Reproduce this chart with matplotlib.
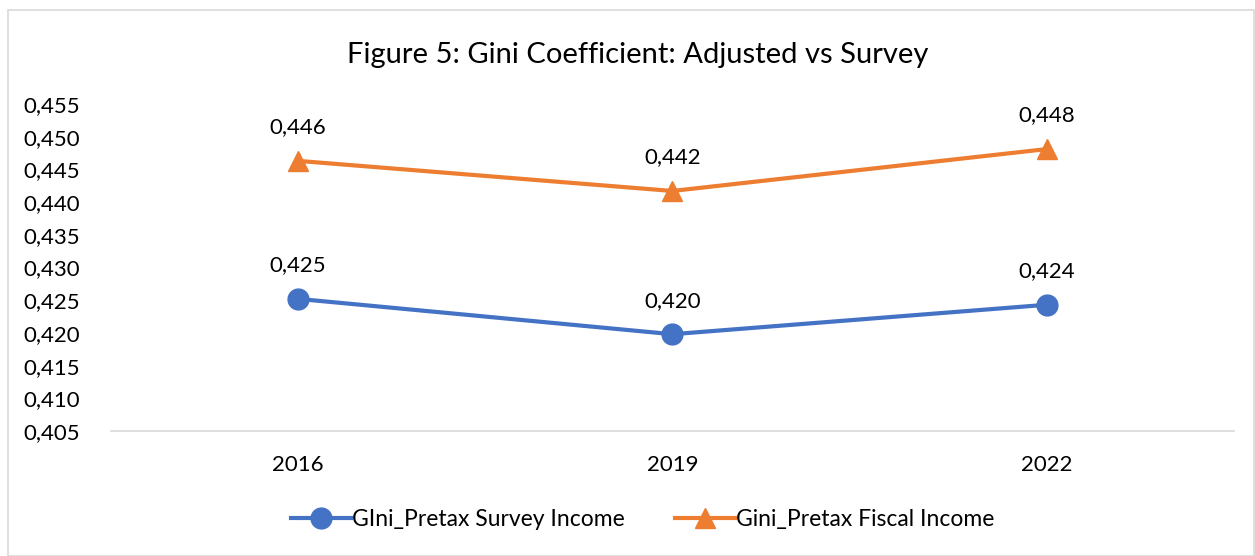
import matplotlib
matplotlib.use("Agg")
import matplotlib.pyplot as plt
from matplotlib.ticker import FuncFormatter, MultipleLocator
from matplotlib.patches import Rectangle

plt.rcParams['font.family'] = ['Lato', 'DejaVu Sans']

# данные
years = ['2016', '2019', '2022']
survey = [0.4252, 0.4198, 0.4243]
fiscal = [0.4463, 0.4417, 0.4481]
survey_name = 'GIni_Pretax Survey Income'
fiscal_name = 'Gini_Pretax Fiscal Income'
title = 'Figure 5: Gini Coefficient: Adjusted vs Survey'

blue = '#4472C4'
orange = '#ED7D31'

fig = plt.figure(figsize=(12.55, 5.56), dpi=100)
ax = fig.add_axes([0.0884, 0.2248, 0.8946, 0.5882])

x = range(len(years))
ax.plot(x, survey, color=blue, lw=3, marker='o', ms=15, label=survey_name)
ax.plot(x, fiscal, color=orange, lw=3, marker='^', ms=15, label=fiscal_name)

# подписи значений
for xs, vals in ((x, survey), (x, fiscal)):
    for xi, v in zip(xs, vals):
        ax.annotate(f'{v:.3f}'.replace('.', ','), (xi, v), xytext=(0, 17),
                    textcoords='offset points', ha='center', va='bottom',
                    fontsize=16, color='#000000')

ax.set_xlim(-0.5, 2.5)
ax.set_ylim(0.405, 0.455)
ax.yaxis.set_major_locator(MultipleLocator(0.005))
ax.yaxis.set_major_formatter(FuncFormatter(lambda v, p: f'{v:.3f}'.replace('.', ',')))
ax.set_xticks(list(x))
ax.set_xticklabels(years)
ax.tick_params(axis='both', length=0, labelsize=16)
ax.tick_params(axis='y', pad=22)
ax.tick_params(axis='x', pad=17)
for s in ('left', 'right', 'top'):
    ax.spines[s].set_visible(False)
ax.spines['bottom'].set_color('#D9D9D9')
ax.spines['bottom'].set_linewidth(1.2)

fig.text(0.508, 0.901, title, ha='center', va='center', fontsize=21)

fig.legend(loc='center', bbox_to_anchor=(0.512, 0.065), ncol=2, frameon=False,
           fontsize=16.5, handlelength=2.6, handletextpad=0.05, columnspacing=2.2)

fig.patches.append(Rectangle((0.006, 0.0), 0.993, 0.982, transform=fig.transFigure,
                             fill=False, edgecolor='#D9D9D9', lw=1.2))

fig.savefig('out.png', dpi=100)
